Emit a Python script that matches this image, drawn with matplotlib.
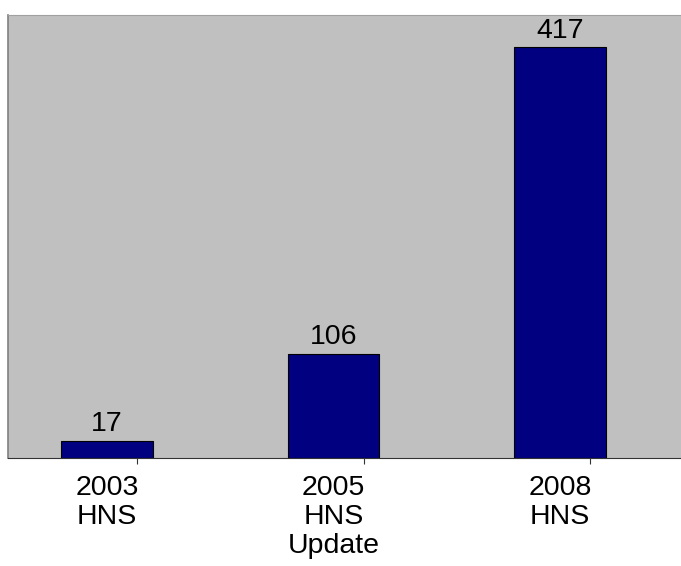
import matplotlib
matplotlib.use('Agg')
from matplotlib import pyplot as plt
import numpy as np

categories = ['2003\nHNS', '2005\nHNS\nUpdate', '2008\nHNS']
counts = [17, 106, 417]

plt.rcParams['font.family'] = ['Liberation Sans', 'DejaVu Sans']

fig = plt.figure(figsize=(6.81, 5.66), dpi=100)
ax = fig.add_axes([8 / 681, 108 / 566, 673 / 681, 443 / 566])
ax.set_facecolor('#c0c0c0')

x = np.arange(len(counts))
bars = ax.bar(x, counts, width=0.405, color='#000080', edgecolor='black', linewidth=0.8)
for xi, v in zip(x, counts):
    ax.text(xi, v + 4, str(v), ha='center', va='bottom', fontsize=20.5)

ax.set_xlim(-0.437, 2.534)
ax.set_ylim(0, 450)

# labels sit under the bars, tick marks are offset to the right
ax.set_xticks(x)
ax.set_xticklabels(categories, fontsize=20.5, linespacing=1.15)
ax.tick_params(axis='x', which='major', length=0, pad=12)
ax.set_xticks(x + 0.133, minor=True)
ax.tick_params(axis='x', which='minor', length=4, width=0.8, color='#333333')
ax.set_yticks([])

ax.spines['right'].set_visible(False)
ax.spines['top'].set_color('#a0a0a0')
ax.spines['left'].set_color('#808080')
ax.spines['left'].set_linewidth(1.2)
ax.spines['bottom'].set_color('#333333')
ax.spines['bottom'].set_linewidth(0.8)

fig.savefig('out.png', dpi=100)
